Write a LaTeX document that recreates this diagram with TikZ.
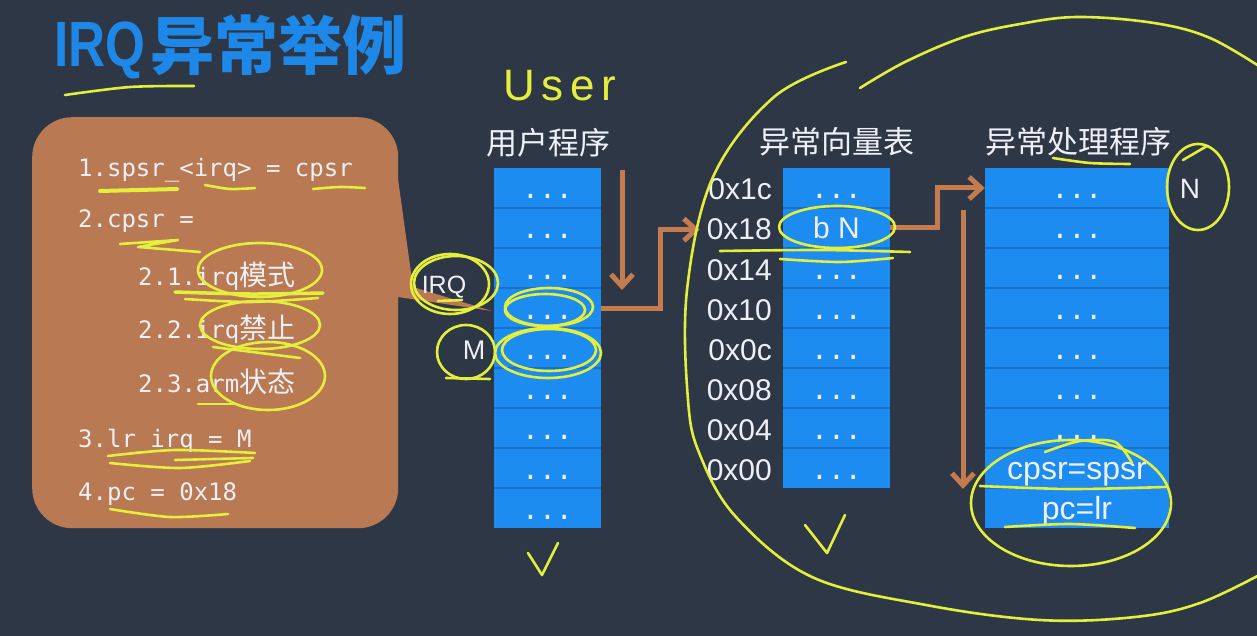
\documentclass[tikz,border=0pt]{standalone}
\usepackage{fontspec}
\usepackage{graphicx}
\usetikzlibrary{arrows.meta}
\setmainfont{Liberation Sans}
\newfontfamily\cjk{Noto Sans CJK SC}
\newfontfamily\mono{DejaVu Sans Mono}
\newfontfamily\handfont[LetterSpace=15]{Liberation Sans}
\definecolor{bg}{HTML}{2D3746}
\definecolor{callout}{HTML}{B97952}
\definecolor{colblue}{HTML}{1C8CF0}
\definecolor{rowline}{HTML}{1670CC}
\definecolor{arrowc}{HTML}{C47C4E}
\definecolor{hl}{HTML}{E4EE3C}
\definecolor{txt}{HTML}{EEF0F6}
\definecolor{titleblue}{HTML}{1E88E8}
\newcommand{\fs}[1]{\fontsize{#1}{#1}\selectfont}
\begin{document}
\begin{tikzpicture}[x=1pt,y=-1pt,
  cell/.style={fill=colblue, minimum height=40pt, inner sep=0pt, text height=31pt, text depth=9pt, text=txt},
  ucell/.style={cell, minimum width=107pt},
  hcell/.style={cell, minimum width=184pt},
  dotsfont/.style={font=\mono\fs{28}},
  celltext/.style={font=\fs{32}},
  hdr/.style={font=\cjk\fs{31}, text=txt, inner sep=0pt},
  addr/.style={font=\fs{30}, text=txt, inner sep=0pt, anchor=base east},
  stepline/.style={font=\mono\fs{24}, text=txt, inner sep=0pt, anchor=base west},
  lbl/.style={text=txt, inner sep=0pt},
  flow/.style={draw=arrowc, line width=5pt, -{Straight Barb[length=12pt, width=22pt]}},
  sep/.style={draw=rowline, line width=1.5pt},
  hand/.style={draw=hl, line width=2.6pt, line cap=round, line join=round}
]
\fill[bg] (0,0) rectangle (1257,636);
\useasboundingbox (0,0) rectangle (1257,636);

% title
\node[inner sep=0pt, anchor=base west, text=titleblue, font=\bfseries\fs{64}] (ttl1) at (54,67) {\scalebox{0.8}[1]{IRQ}};
\node[inner sep=0pt, anchor=base west, text=titleblue, font=\cjk\bfseries\fs{64}] (ttl2) at (150,70) {异常举例};

% callout
\node[fill=callout, rounded corners=40pt, minimum width=366pt, minimum height=411pt, inner sep=0pt, anchor=north west] (steps) at (32,117) {};
\fill[callout] (394,150) -- (413,287) -- (492,311) -- (398,297) -- cycle;

\node[stepline] (s1) at (78,177) {1.spsr\_<irq> = cpsr};
\node[stepline] (s2) at (78,228) {2.cpsr =};
\node[stepline] (s21) at (138,285) {2.1.irq{\cjk\fs{28}模式}};
\node[stepline] (s22) at (138,338) {2.2.irq{\cjk\fs{28}禁止}};
\node[stepline] (s23) at (138,392) {2.3.arm{\cjk\fs{28}状态}};
\node[stepline] (s3) at (78,447) {3.lr\_irq = M};
\node[stepline] (s4) at (78,500) {4.pc = 0x18};

% headers
\node[hdr] (hu) at (548,143) {用户程序};
\node[hdr] (hv) at (837,142) {异常向量表};
\node[hdr] (hh) at (1078,142) {异常处理程序};

% user program column
\foreach \i in {1,...,9} {
  \node[ucell, dotsfont] (u\i) at (547.5,{148+40*\i}) {...};
}
\foreach \i in {1,...,8} { \draw[sep] (u\i.south west) -- (u\i.south east); }

% vector table column
\foreach \i in {1,3,4,5,6,7,8} {
  \node[ucell, dotsfont] (v\i) at (836.5,{148+40*\i}) {...};
}
\node[ucell, celltext, font=\fs{30}] (v2) at (836.5,228) {b N};
\foreach \i in {1,...,7} { \draw[sep] (v\i.south west) -- (v\i.south east); }

% addresses
\node[addr] (a1c) at (772,200) {0x1c};
\node[addr] (a18) at (772,240) {0x18};
\node[addr] (a14) at (772,280) {0x14};
\node[addr] (a10) at (772,320) {0x10};
\node[addr] (a0c) at (772,360) {0x0c};
\node[addr] (a08) at (772,400) {0x08};
\node[addr] (a04) at (772,440) {0x04};
\node[addr] (a00) at (772,480) {0x00};

% handler column
\foreach \i in {1,...,7} {
  \node[hcell, dotsfont] (h\i) at (1077,{148+40*\i}) {...};
}
\node[hcell, celltext] (h8) at (1077,468) {cpsr=spsr};
\node[hcell, celltext] (h9) at (1077,508) {pc=lr};
\foreach \i in {1,...,8} { \draw[sep] (h\i.south west) -- (h\i.south east); }

% side labels
\node[lbl, font=\fs{25}] (irq) at (444,287) {IRQ};
\node[lbl, font=\fs{27}] (mlbl) at (474,350) {M};
\node[lbl, font=\fs{28}] (nlbl) at (1190,189) {N};

% arrows
\coordinate (d1s) at (622,170);
\coordinate (d1e) at (622,290);
\draw[flow] (d1s) -- (d1e);
\draw[flow, shorten >=7pt] (u4.east) -- ++(59,0) |- (a18.west);
\draw[flow] (v2.east) -- ++(47,0) |- (h1.west);
\coordinate (d2s) at (963,210);
\coordinate (d2e) at (963,489);
\draw[flow] (d2s) -- (d2e);

% handwriting
\node[inner sep=0pt, text=hl, font=\handfont\fs{44}] (user) at (560,86) {User};

% hand annotations
\draw[hand] plot[smooth] coordinates {(65,95) (130,87) (194,86)};
\draw[hand, line width=4pt] (100,191) -- (177,189);
\draw[hand] plot[smooth] coordinates {(205,185) (230,189) (255,188)};
\draw[hand] plot[smooth] coordinates {(313,189) (340,187) (365,188)};
\draw[hand] (120,244) -- (178,240) -- (138,247) -- (200,252);
\draw[hand] (260,270) ellipse [x radius=62, y radius=27];
\draw[hand, line width=3.5pt] plot[smooth] coordinates {(175,292) (250,294) (323,293)};
\draw[hand] plot[smooth] coordinates {(185,299) (250,302) (318,298)};
\draw[hand] (260,325) ellipse [x radius=60, y radius=24];
\draw[hand] (213,347) -- (300,358);
\draw[hand] (268,376) ellipse [x radius=57, y radius=34];
\draw[hand] (198,404) -- (237,404);
\draw[hand] plot[smooth] coordinates {(108,456) (175,450) (255,453)};
\draw[hand] plot[smooth] coordinates {(110,463) (180,468) (250,461)};
\draw[hand] (175,460) -- (253,458);
\draw[hand] plot[smooth] coordinates {(110,509) (170,517) (228,514)};

\draw[hand] (450,284) ellipse [x radius=39, y radius=30];
\draw[hand] (456,283) ellipse [x radius=42, y radius=27];
\draw[hand] (438,301) -- (462,300);
\draw[hand] (466,352) ellipse [x radius=29, y radius=27];
\draw[hand] (446,378) -- (490,379);
\draw[hand] (549,307) ellipse [x radius=44, y radius=19];
\draw[hand] (545,310) ellipse [x radius=40, y radius=16];
\draw[hand] (548,353) ellipse [x radius=53, y radius=25];
\draw[hand] (549,350) ellipse [x radius=47, y radius=21];

\draw[hand] (837,227) ellipse [x radius=58, y radius=21];
\draw[hand] plot[smooth] coordinates {(720,251) (820,250) (910,252)};
\draw[hand] plot[smooth] coordinates {(780,259) (840,262) (893,258)};

\draw[hand] plot[smooth] coordinates {(1053,158) (1090,163) (1130,164)};
\draw[hand] (1198,187) ellipse [x radius=31, y radius=43];
\draw[hand] (1183,160) -- (1207,146);
\draw[hand] (1071,503) ellipse [x radius=100, y radius=63];
\draw[hand] plot[smooth] coordinates {(980,486) (1070,489) (1167,487)};
\draw[hand] plot[smooth] coordinates {(1005,527) (1070,524) (1135,528)};
\draw[hand] plot[smooth] coordinates {(1045,452) (1080,441) (1115,442) (1132,463)};

\draw[hand] plot[smooth, tension=0.6] coordinates {(846,62) (774,97) (713,177) (687,290) (688,400) (700,455) (736,517) (812,577) (926,605) (1040,620) (1135,617) (1200,603) (1265,572)};
\draw[hand] plot[smooth, tension=0.6] coordinates {(860,88) (905,62) (964,37) (1020,24) (1078,17) (1154,23) (1210,38) (1265,70)};

\draw[hand] (528,553) -- (542,575) -- (558,543);
\draw[hand] (805,525) -- (827,553) -- (845,515);
\end{tikzpicture}
\end{document}
